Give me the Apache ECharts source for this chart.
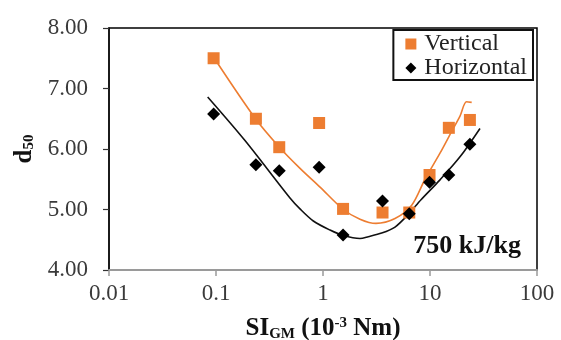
<!DOCTYPE html>
<html>
<head>
<meta charset="utf-8">
<script src="https://cdn.jsdelivr.net/npm/echarts@6/dist/echarts.min.js"></script>
<style>
  html, body { margin: 0; padding: 0; background: #fff; }
  #chart { width: 561px; height: 340px; }
</style>
</head>
<body>
<div id="chart"></div>
<script>
// Grinding index SI_GM (10^-3 Nm) for each sample
const siGM = [0.095, 0.236, 0.39, 0.92, 1.54, 3.6, 6.4, 9.9, 15.0, 23.6];
// Median particle size d50
const verticalD50   = [7.50, 6.50, 6.03, 6.43, 5.01, 4.95, 4.95, 5.57, 6.35, 6.48];
const horizontalD50 = [6.58, 5.74, 5.64, 5.70, 4.58, 5.14, 4.93, 5.45, 5.57, 6.08];

// Trend curves
const verticalFitX = [0.0964, 0.234, 0.391, 0.610, 0.938, 1.548, 2.217, 3.128, 4.709, 6.745, 8.98, 12.40, 16.05, 19.07, 21.94, 24.53];
const verticalFitY = [7.50, 6.50, 6.03, 5.68, 5.37, 5.00, 4.84, 4.77, 4.85, 5.07, 5.50, 5.93, 6.30, 6.545, 6.78, 6.77];
const horizontalFitX = [0.0836, 0.1866, 0.4915, 0.6095, 0.812, 1.163, 1.548, 2.217, 2.651, 3.537, 4.709, 6.268, 8.24, 12.40, 19.07, 29.33];
const horizontalFitY = [6.86, 6.14, 5.19, 5.01, 4.81, 4.66, 4.57, 4.52, 4.55, 4.61, 4.71, 4.92, 5.16, 5.49, 5.87, 6.34];

const xTickLabels = ['0.01', '0.1', '1', '10', '100'];
const seriesNames = ['Vertical', 'Horizontal'];
const condition = '750 kJ/kg';

const ORANGE = '#ED7D31';
const serif = '"Liberation Serif", "DejaVu Serif", serif';

const pairs = (xs, ys) => xs.map((x, i) => [x, ys[i]]);

const chart = echarts.init(document.getElementById('chart'));
chart.setOption({
  animation: false,
  backgroundColor: '#fff',
  textStyle: { fontFamily: serif },
  grid: {
    left: 109, right: 24, top: 28, bottom: 70,
    outerBoundsMode: 'none', containLabel: false,
    show: true, borderColor: '#000', borderWidth: 1.5
  },
  title: {
    text: condition,
    right: 35, top: 228,
    textStyle: { fontFamily: serif, fontWeight: 'bold', fontSize: 26, color: '#111' }
  },
  legend: {
    data: [
      { name: seriesNames[0], icon: 'rect' },
      { name: seriesNames[1], icon: 'diamond' }
    ],
    orient: 'vertical',
    right: 28, top: 30,
    itemWidth: 11, itemHeight: 11, itemGap: 0,
    padding: [2, 6, 0, 12],
    backgroundColor: '#fff',
    borderColor: '#111', borderWidth: 2,
    textStyle: { fontFamily: serif, fontSize: 24, color: '#222', width: 112, padding: [0, 0, 0, 3] }
  },
  xAxis: {
    type: 'log', logBase: 10, min: 0.01, max: 100,
    name: '{b|SI}{sub|GM}{b| (10}{sup|-3}{b| Nm)}',
    nameLocation: 'middle', nameGap: 46,
    nameTextStyle: {
      rich: {
        b: { fontFamily: serif, fontWeight: 'bold', fontSize: 25, color: '#111' },
        sub: { fontFamily: serif, fontWeight: 'bold', fontSize: 15, color: '#111', verticalAlign: 'bottom', padding: [11, 0, 0, 0] },
        sup: { fontFamily: serif, fontWeight: 'bold', fontSize: 15, color: '#111', verticalAlign: 'top', padding: [0, 0, 9, 0] }
      }
    },
    axisLine: { lineStyle: { color: '#9a9a9a', width: 2 } },
    axisTick: { show: true, length: 6, lineStyle: { color: '#9a9a9a', width: 1.5 } },
    minorTick: { show: false },
    splitLine: { show: false },
    axisLabel: {
      margin: 12, fontSize: 23, fontFamily: serif, color: '#3a3a3a',
      formatter: (v) => xTickLabels[Math.round(Math.log10(v)) + 2]
    }
  },
  yAxis: {
    type: 'value', min: 4, max: 8, interval: 1,
    name: '{b|d}{sub|50}',
    nameLocation: 'middle', nameGap: 72, nameRotate: 90,
    nameTextStyle: {
      rich: {
        b: { fontFamily: serif, fontWeight: 'bold', fontSize: 25, color: '#111' },
        sub: { fontFamily: serif, fontWeight: 'bold', fontSize: 15, color: '#111', verticalAlign: 'bottom', padding: [10, 0, 0, 0] }
      }
    },
    axisLine: { show: true, lineStyle: { color: '#111', width: 1.5 } },
    axisTick: { show: true, length: 6, lineStyle: { color: '#333', width: 1.2 } },
    splitLine: { show: false },
    axisLabel: {
      margin: 21, fontSize: 23, fontFamily: serif, color: '#3a3a3a',
      formatter: (v) => v.toFixed(2)
    }
  },
  series: [
    {
      name: seriesNames[0] + ' trend', type: 'line', smooth: 0.3,
      showSymbol: false, silent: true,
      lineStyle: { color: ORANGE, width: 1.6 },
      data: pairs(verticalFitX, verticalFitY), z: 2
    },
    {
      name: seriesNames[1] + ' trend', type: 'line', smooth: 0.3,
      showSymbol: false, silent: true,
      lineStyle: { color: '#111', width: 1.6 },
      data: pairs(horizontalFitX, horizontalFitY), z: 2
    },
    {
      name: seriesNames[0], type: 'scatter', symbol: 'rect', symbolSize: 12,
      itemStyle: { color: ORANGE, opacity: 1 },
      data: pairs(siGM, verticalD50), z: 3
    },
    {
      name: seriesNames[1], type: 'scatter', symbol: 'diamond', symbolSize: 13,
      itemStyle: { color: '#000', opacity: 1 },
      data: pairs(siGM, horizontalD50), z: 4
    }
  ]
});
</script>
</body>
</html>
